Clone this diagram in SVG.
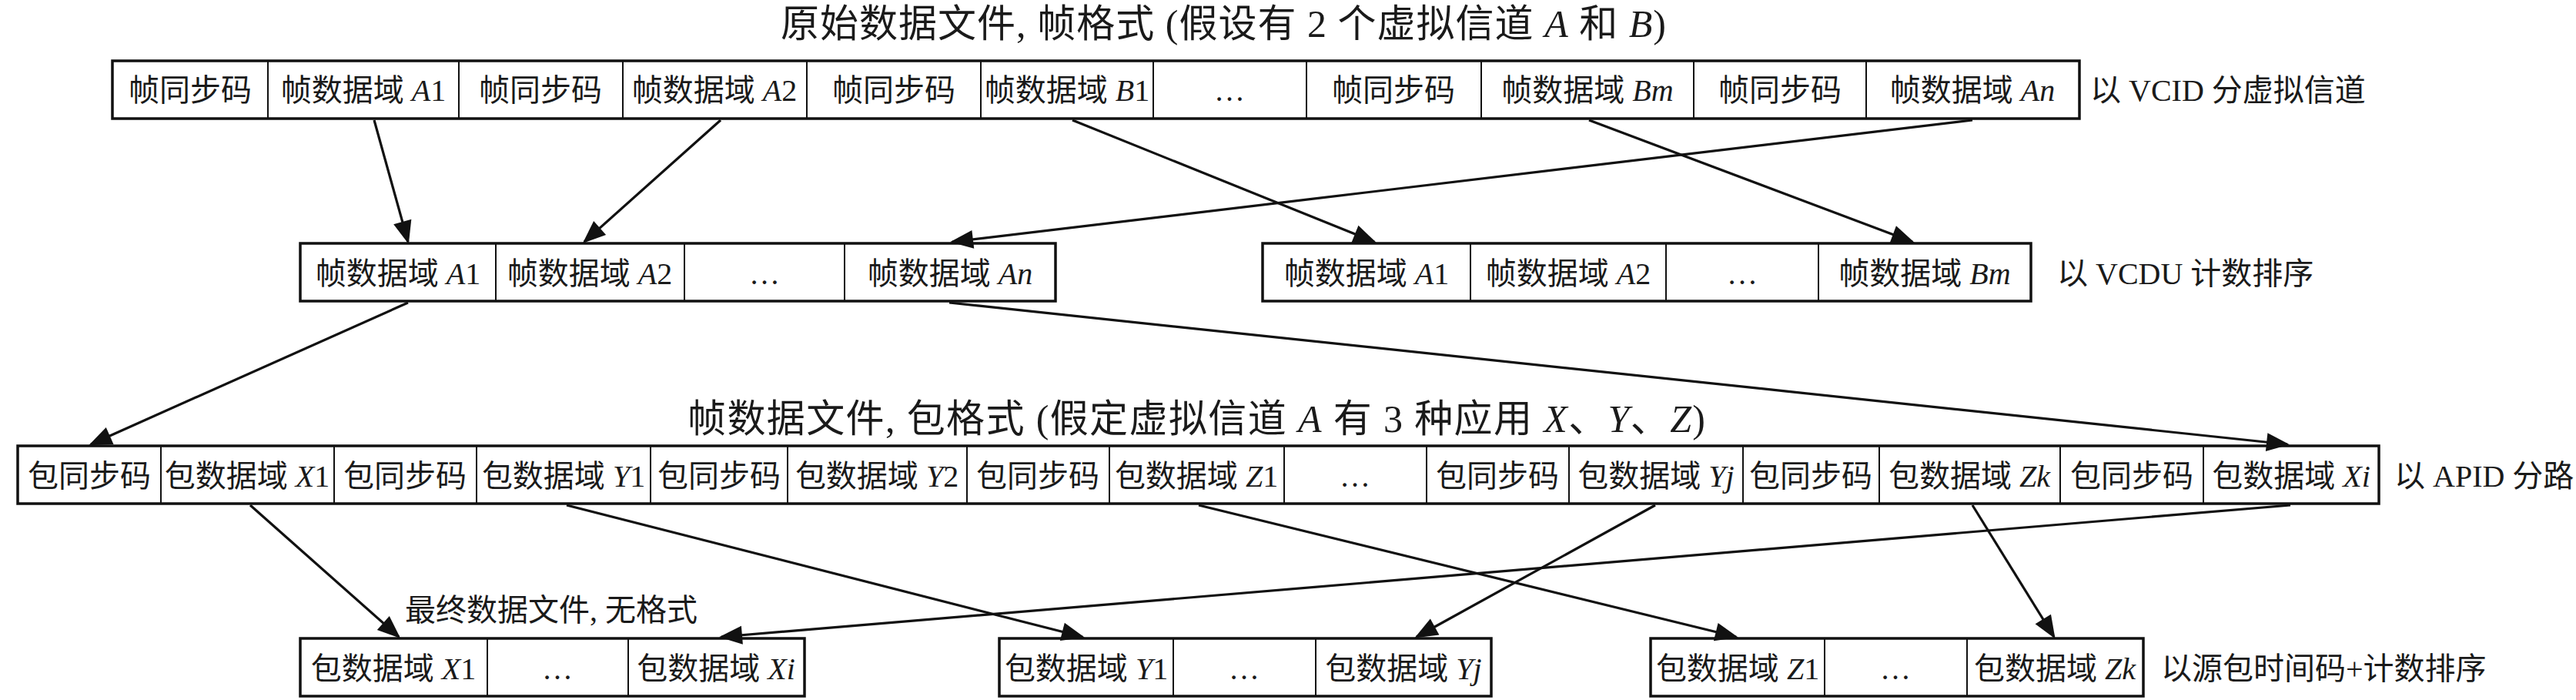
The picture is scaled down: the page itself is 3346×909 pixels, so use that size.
<svg xmlns="http://www.w3.org/2000/svg" width="3346" height="909" viewBox="0 0 3346 909">
<style>
text{font-family:"Liberation Serif","Noto Sans CJK SC",serif;fill:#1a1a1a}
.t{font-size:40px;text-anchor:middle}
.l{font-size:40px}
.h{font-size:50px}
.i{font-style:italic}
.c{fill:#fff;stroke:#111;stroke-width:2}
.o{fill:none;stroke:#111;stroke-width:3.5}
.a{stroke:#111;stroke-width:3.2;fill:none;marker-end:url(#ah)}
</style>
<defs>
<marker id="ah" markerUnits="userSpaceOnUse" markerWidth="30" markerHeight="24" refX="27" refY="12" orient="auto" overflow="visible">
<path d="M0,0 L30,12 L0,24 z" fill="#111"/>
</marker>
</defs>
<rect width="3346" height="909" fill="#fff"/>

<text class="h" x="1014" y="48" textLength="1150">原始数据文件, 帧格式 (假设有 2 个虚拟信道 <tspan class="i">A</tspan> 和 <tspan class="i">B</tspan>)</text>
<text class="h" x="893" y="561" textLength="1322">帧数据文件, 包格式 (假定虚拟信道 <tspan class="i">A</tspan> 有 3 种应用 <tspan class="i">X</tspan>、<tspan class="i">Y</tspan>、<tspan class="i">Z</tspan>)</text>
<text class="l" x="526" y="806">最终数据文件, 无格式</text>

<g id="row1">
<g id="r1c1"><rect class="c" x="146" y="79" width="202" height="75"/><text class="t" x="247" y="131">帧同步码</text></g>
<g id="r1c2"><rect class="c" x="348" y="79" width="248" height="75"/><text class="t" x="472" y="131">帧数据域 <tspan class="i">A</tspan>1</text></g>
<g id="r1c3"><rect class="c" x="596" y="79" width="213" height="75"/><text class="t" x="702" y="131">帧同步码</text></g>
<g id="r1c4"><rect class="c" x="809" y="79" width="239" height="75"/><text class="t" x="928" y="131">帧数据域 <tspan class="i">A</tspan>2</text></g>
<g id="r1c5"><rect class="c" x="1048" y="79" width="226" height="75"/><text class="t" x="1161" y="131">帧同步码</text></g>
<g id="r1c6"><rect class="c" x="1274" y="79" width="224" height="75"/><text class="t" x="1386" y="131">帧数据域 <tspan class="i">B</tspan>1</text></g>
<g id="r1c7"><rect class="c" x="1498" y="79" width="199" height="75"/><text class="t" x="1597" y="131">…</text></g>
<g id="r1c8"><rect class="c" x="1697" y="79" width="227" height="75"/><text class="t" x="1810" y="131">帧同步码</text></g>
<g id="r1c9"><rect class="c" x="1924" y="79" width="276" height="75"/><text class="t" x="2062" y="131">帧数据域 <tspan class="i">Bm</tspan></text></g>
<g id="r1c10"><rect class="c" x="2200" y="79" width="224" height="75"/><text class="t" x="2312" y="131">帧同步码</text></g>
<g id="r1c11"><rect class="c" x="2424" y="79" width="277" height="75"/><text class="t" x="2562" y="131">帧数据域 <tspan class="i">An</tspan></text></g>
<rect class="o" x="146" y="79" width="2555" height="75"/>
<text class="l" x="2715" y="131">以 VCID 分虚拟信道</text>
</g>

<g id="row2a">
<g id="r2a1"><rect class="c" x="390" y="316" width="254" height="75"/><text class="t" x="517" y="369">帧数据域 <tspan class="i">A</tspan>1</text></g>
<g id="r2a2"><rect class="c" x="644" y="316" width="245" height="75"/><text class="t" x="766" y="369">帧数据域 <tspan class="i">A</tspan>2</text></g>
<g id="r2a3"><rect class="c" x="889" y="316" width="208" height="75"/><text class="t" x="993" y="369">…</text></g>
<g id="r2a4"><rect class="c" x="1097" y="316" width="274" height="75"/><text class="t" x="1234" y="369">帧数据域 <tspan class="i">An</tspan></text></g>
<rect class="o" x="390" y="316" width="981" height="75"/>
</g>

<g id="row2b">
<g id="r2b1"><rect class="c" x="1640" y="316" width="270" height="75"/><text class="t" x="1775" y="369">帧数据域 <tspan class="i">A</tspan>1</text></g>
<g id="r2b2"><rect class="c" x="1910" y="316" width="254" height="75"/><text class="t" x="2037" y="369">帧数据域 <tspan class="i">A</tspan>2</text></g>
<g id="r2b3"><rect class="c" x="2164" y="316" width="198" height="75"/><text class="t" x="2263" y="369">…</text></g>
<g id="r2b4"><rect class="c" x="2362" y="316" width="276" height="75"/><text class="t" x="2500" y="369">帧数据域 <tspan class="i">Bm</tspan></text></g>
<rect class="o" x="1640" y="316" width="998" height="75"/>
<text class="l" x="2672" y="369">以 VCDU 计数排序</text>
</g>

<g id="row3">
<g id="r3c1"><rect class="c" x="23" y="579" width="186" height="75"/><text class="t" x="116" y="632">包同步码</text></g>
<g id="r3c2"><rect class="c" x="209" y="579" width="225" height="75"/><text class="t" x="321" y="632">包数据域 <tspan class="i">X</tspan>1</text></g>
<g id="r3c3"><rect class="c" x="434" y="579" width="185" height="75"/><text class="t" x="526" y="632">包同步码</text></g>
<g id="r3c4"><rect class="c" x="619" y="579" width="226" height="75"/><text class="t" x="732" y="632">包数据域 <tspan class="i">Y</tspan>1</text></g>
<g id="r3c5"><rect class="c" x="845" y="579" width="178" height="75"/><text class="t" x="934" y="632">包同步码</text></g>
<g id="r3c6"><rect class="c" x="1023" y="579" width="233" height="75"/><text class="t" x="1139" y="632">包数据域 <tspan class="i">Y</tspan>2</text></g>
<g id="r3c7"><rect class="c" x="1256" y="579" width="185" height="75"/><text class="t" x="1348" y="632">包同步码</text></g>
<g id="r3c8"><rect class="c" x="1441" y="579" width="227" height="75"/><text class="t" x="1554" y="632">包数据域 <tspan class="i">Z</tspan>1</text></g>
<g id="r3c9"><rect class="c" x="1668" y="579" width="185" height="75"/><text class="t" x="1760" y="632">…</text></g>
<g id="r3c10"><rect class="c" x="1853" y="579" width="185" height="75"/><text class="t" x="1945" y="632">包同步码</text></g>
<g id="r3c11"><rect class="c" x="2038" y="579" width="226" height="75"/><text class="t" x="2151" y="632">包数据域 <tspan class="i">Yj</tspan></text></g>
<g id="r3c12"><rect class="c" x="2264" y="579" width="177" height="75"/><text class="t" x="2352" y="632">包同步码</text></g>
<g id="r3c13"><rect class="c" x="2441" y="579" width="235" height="75"/><text class="t" x="2558" y="632">包数据域 <tspan class="i">Zk</tspan></text></g>
<g id="r3c14"><rect class="c" x="2676" y="579" width="186" height="75"/><text class="t" x="2769" y="632">包同步码</text></g>
<g id="r3c15"><rect class="c" x="2862" y="579" width="228" height="75"/><text class="t" x="2976" y="632">包数据域 <tspan class="i">Xi</tspan></text></g>
<rect class="o" x="23" y="579" width="3067" height="75"/>
<text class="l" x="3110" y="632">以 APID 分路</text>
</g>

<g id="row4x">
<g id="r4x1"><rect class="c" x="390" y="829" width="243" height="75"/><text class="t" x="511" y="882">包数据域 <tspan class="i">X</tspan>1</text></g>
<g id="r4x2"><rect class="c" x="633" y="829" width="183" height="75"/><text class="t" x="724" y="882">…</text></g>
<g id="r4x3"><rect class="c" x="816" y="829" width="229" height="75"/><text class="t" x="930" y="882">包数据域 <tspan class="i">Xi</tspan></text></g>
<rect class="o" x="390" y="829" width="655" height="75"/>
</g>
<g id="row4y">
<g id="r4y1"><rect class="c" x="1298" y="829" width="226" height="75"/><text class="t" x="1411" y="882">包数据域 <tspan class="i">Y</tspan>1</text></g>
<g id="r4y2"><rect class="c" x="1524" y="829" width="185" height="75"/><text class="t" x="1616" y="882">…</text></g>
<g id="r4y3"><rect class="c" x="1709" y="829" width="228" height="75"/><text class="t" x="1823" y="882">包数据域 <tspan class="i">Yj</tspan></text></g>
<rect class="o" x="1298" y="829" width="639" height="75"/>
</g>
<g id="row4z">
<g id="r4z1"><rect class="c" x="2144" y="829" width="226" height="75"/><text class="t" x="2257" y="882">包数据域 <tspan class="i">Z</tspan>1</text></g>
<g id="r4z2"><rect class="c" x="2370" y="829" width="185" height="75"/><text class="t" x="2462" y="882">…</text></g>
<g id="r4z3"><rect class="c" x="2555" y="829" width="229" height="75"/><text class="t" x="2669" y="882">包数据域 <tspan class="i">Zk</tspan></text></g>
<rect class="o" x="2144" y="829" width="640" height="75"/>
<text class="l" x="2807" y="882">以源包时间码+计数排序</text>
</g>

<g id="connectors">
<line class="a" x1="486" y1="156" x2="530" y2="314"/>
<line class="a" x1="936" y1="156" x2="759" y2="314"/>
<line class="a" x1="2562" y1="156" x2="1237" y2="314"/>
<line class="a" x1="1393" y1="156" x2="1785" y2="314"/>
<line class="a" x1="2064" y1="156" x2="2484" y2="314"/>
<line class="a" x1="530" y1="393" x2="118" y2="577"/>
<line class="a" x1="1233" y1="393" x2="2971" y2="577"/>
<line class="a" x1="325" y1="656" x2="518" y2="827"/>
<line class="a" x1="736" y1="656" x2="1406" y2="827"/>
<line class="a" x1="1557" y1="656" x2="2255" y2="827"/>
<line class="a" x1="2150" y1="656" x2="1840" y2="827"/>
<line class="a" x1="2562" y1="656" x2="2668" y2="827"/>
<line class="a" x1="2975" y1="656" x2="937" y2="827"/>
</g>
</svg>
